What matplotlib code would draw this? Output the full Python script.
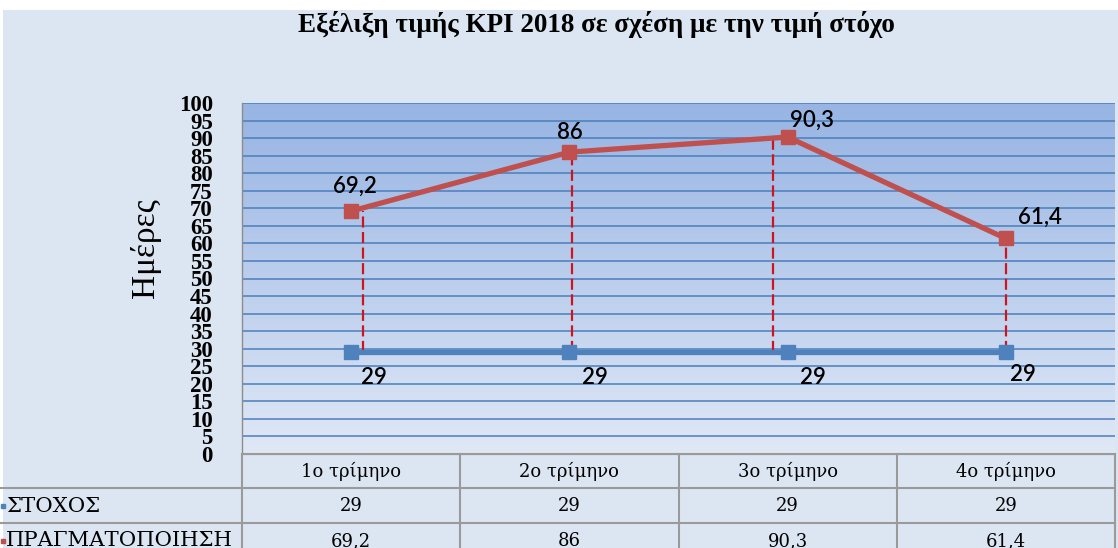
import numpy as np
import matplotlib
matplotlib.use("Agg")
import matplotlib.pyplot as plt
from matplotlib.patches import Rectangle

# ---------------- data ----------------
categories = ["1ο τρίμηνο", "2ο τρίμηνο", "3ο τρίμηνο", "4ο τρίμηνο"]
target = [29, 29, 29, 29]          # ΣΤΟΧΟΣ
actual = [69.2, 86, 90.3, 61.4]    # ΠΡΑΓΜΑΤΟΠΟΙΗΣΗ
series_names = ["ΣΤΟΧΟΣ", "ΠΡΑΓΜΑΤΟΠΟΙΗΣΗ"]
yticks = list(range(0, 101, 5))
title = "Εξέλιξη τιμής KPI 2018 σε σχέση με την τιμή στόχο"
ylabel = "Ημέρες"

# ---------------- style ----------------
W, H = 1118, 548
BG = "#DCE6F2"
RED = "#C0504D"
BLUE = "#4F81BD"
GRID = "#4A7EBB"
TABLE_LINE = "#9A9A9A"
DROP = "#D0141E"

# label offsets in pixels (decorative placement)
red_off = [(4, 25), (0, 20), (24, 17), (34, 21)]
blue_off = [(23, -25), (26, -25), (25, -25), (17, -22)]
drop_dx = [0.055, 0.01, -0.065, 0.0]  # hand-drawn drop lines offsets (category units)

def fmt(v):
    return f"{v:g}".replace(".", ",")

fig = plt.figure(figsize=(W / 100, H / 100), dpi=100)
fig.patch.set_facecolor("white")
fig.add_artist(Rectangle((3 / W, 0), 1, 1 - 10 / H, transform=fig.transFigure,
                         facecolor=BG, edgecolor="none", zorder=-10))

# plot area in pixels
L, R, T, B = 242, 1115, 103, 454
ax = fig.add_axes([L / W, 1 - B / H, (R - L) / W, (B - T) / H])
ax.set_xlim(-0.5, len(categories) - 0.5)
ax.set_ylim(0, 100)

# gradient background
top_c = np.array([0.592, 0.706, 0.890])
bot_c = np.array([0.878, 0.910, 0.965])
t = np.linspace(0, 1, 256)[:, None]
grad = (top_c[None, :] * (1 - t) + bot_c[None, :] * t)[:, None, :]
ax.imshow(grad, extent=(-0.5, len(categories) - 0.5, 0, 100), aspect="auto",
          origin="upper", zorder=0, interpolation="bilinear")

for yv in yticks[1:]:
    ax.axhline(yv, color=GRID, lw=1.1, zorder=1)

x = np.arange(len(categories))
ax.plot(x, target, color=BLUE, lw=3.8, marker="s", ms=10, mfc=BLUE, mec=BLUE, zorder=4)
ax.plot(x, actual, color=RED, lw=3.8, marker="s", ms=10.5, mfc=RED, mec=RED, zorder=4)

# drop lines
for i in range(len(categories)):
    ax.plot([x[i] + drop_dx[i]] * 2, [target[i], actual[i]], color=DROP, lw=1.6,
            ls=(0, (5, 2)), zorder=3)

lab = dict(textcoords="offset pixels", ha="center", va="center",
           fontsize=16, family="Lato", fontweight="semibold", color="black", zorder=6)
for i in range(len(categories)):
    ax.annotate(fmt(actual[i]), (x[i], actual[i]), xytext=red_off[i], **lab)
    ax.annotate(fmt(target[i]), (x[i], target[i]), xytext=blue_off[i], **lab)

ax.set_xticks([])
ax.set_yticks(yticks)
ax.set_yticklabels([str(v) for v in yticks], family="Liberation Serif",
                   fontweight="bold", fontsize=16.5)
ax.tick_params(axis="y", length=0, pad=21)
for s in ["top", "right"]:
    ax.spines[s].set_visible(False)
ax.spines["left"].set_color("#8C8C8C")
ax.spines["bottom"].set_color(TABLE_LINE)
ax.spines["left"].set_linewidth(1.0)

# ---------------- table ----------------
tab = fig.add_axes([L / W, 0, (R - L) / W, (H - B) / H])
tab.set_xlim(-0.5, len(categories) - 0.5)
tab.set_ylim(H - B, 0)  # pixel rows measured downward from plot bottom
tab.axis("off")
cw = (R - L) / len(categories)
x_left = -0.5 - L / cw
rows = [0, 34, 69, 104]
tab.plot([-0.5, len(categories) - 0.5], [rows[0]] * 2, color=TABLE_LINE, lw=1.5, clip_on=False)
for r in rows[1:3]:
    tab.plot([x_left, len(categories) - 0.5], [r, r], color=TABLE_LINE, lw=1.5, clip_on=False)
for c in range(len(categories) + 1):
    tab.plot([c - 0.5] * 2, [0, rows[3]], color=TABLE_LINE, lw=1.5, clip_on=False)

tf = dict(family="DejaVu Serif", fontsize=13, color="black", ha="center", va="center")
for i, c in enumerate(categories):
    tab.text(i, 17.5, c, **tf)
    tab.text(i, 52, fmt(target[i]), **tf)
    tab.text(i, 87, fmt(actual[i]), **tf)

lx = x_left + 6 / cw
tab.text(lx, 52, series_names[0], family="DejaVu Serif", fontsize=15.3, ha="left", va="center", clip_on=False)
tab.text(lx, 87, series_names[1], family="DejaVu Serif", fontsize=15.3, ha="left", va="center", clip_on=False)
tab.plot([x_left + 2.5 / cw], [52], marker="s", ms=2.5, color=BLUE, clip_on=False)
tab.plot([x_left + 2.5 / cw], [87], marker="s", ms=2.5, color=RED, clip_on=False)

# ---------------- titles ----------------
fig.text(596 / W, 1 - 24 / H, title, family="Liberation Serif", fontweight="bold",
         fontsize=19.5, ha="center", va="center")
fig.text(145 / W, 1 - 248 / H, ylabel, family="Liberation Serif", fontsize=24,
         rotation=90, ha="center", va="center")

fig.savefig("out.png", dpi=100, facecolor=fig.get_facecolor())
